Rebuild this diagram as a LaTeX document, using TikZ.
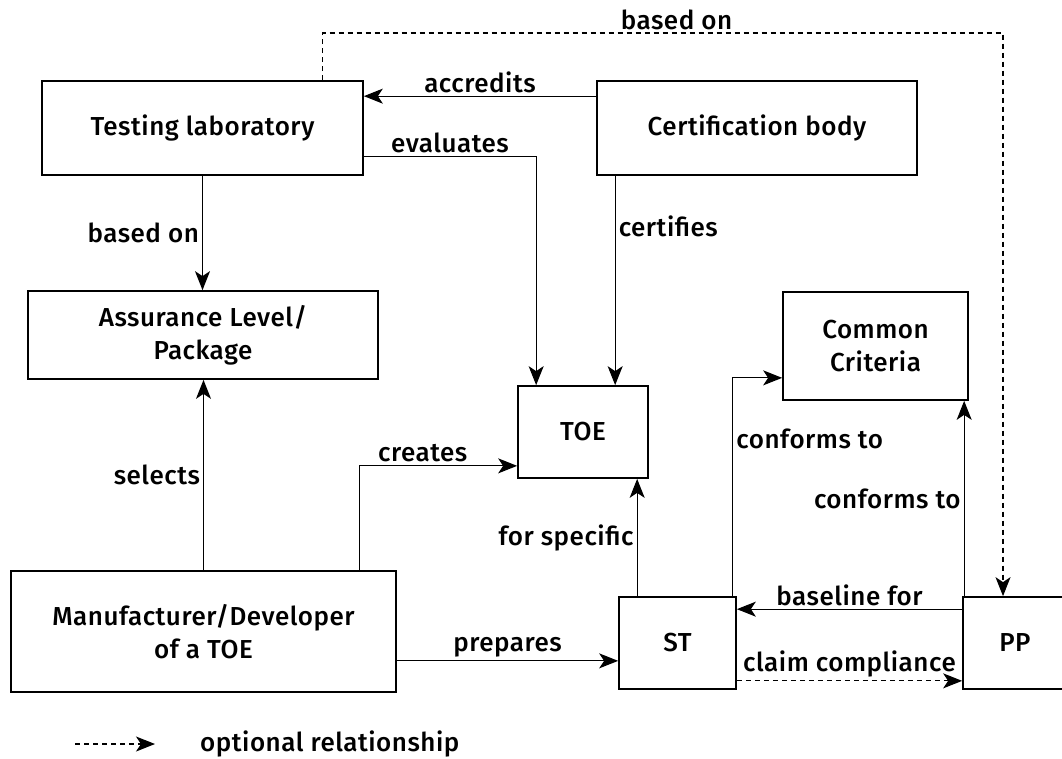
\documentclass[tikz,border=0pt]{standalone}
\usepackage{fontspec}
\setmainfont{Fira Sans}[UprightFont={* Medium},LetterSpace=2]
\usetikzlibrary{arrows.meta,positioning}

\begin{document}
\begin{tikzpicture}[x=1pt,y=-1pt,
                  every node/.style={font=\fontsize{26}{33}\selectfont},
                  box/.style={rectangle,draw,line width=1.7pt,align=center,inner sep=0pt},
                  conn/.style={line width=1.2pt,-{Stealth[length=19pt,width=15pt,inset=5pt]}},
                  opt/.style={conn,dash pattern=on 5pt off 4pt},
                  lbl/.style={inner sep=3pt},
            ]
            \useasboundingbox (0,0) rectangle (1062,758);

            \node[box,minimum width=321pt,minimum height=94pt] (lab) at (202.5,128) {Testing laboratory};
            \node[box,minimum width=320pt,minimum height=94pt] (cert) at (757,128) {Certification body};
            \node[box,minimum width=350pt,minimum height=88pt] (pkg) at (203,335) {Assurance Level/\\Package};
            \node[box,minimum width=130pt,minimum height=92pt] (toe) at (583,432) {TOE};
            \node[box,minimum width=185pt,minimum height=108pt] (cc) at (875.5,346) {Common\\Criteria};
            \node[box,minimum width=385pt,minimum height=121pt] (dev) at (203.5,631.5) {Manufacturer/Developer\\of a TOE};
            \node[box,minimum width=117pt,minimum height=92pt] (st) at (677.5,643) {ST};
            \node[box,minimum width=104pt,minimum height=92pt] (pp) at (1015,643) {PP};

            \draw[conn] ([yshift=-16pt]cert.north west) -- ([yshift=-16pt]lab.north east) node[lbl,midway,above] {accredits};
            \draw[conn] ([yshift=19pt]lab.south east) -| ([xshift=19pt]toe.north west) node[lbl,pos=0.25,above] {evaluates};
            \draw[conn] ([xshift=19pt]cert.south west) -- ([xshift=19pt]cert.south west |- toe.north) node[lbl,pos=0.24,right] {certifies};
            \draw[conn] (lab.south) -- (lab.south |- pkg.north) node[lbl,midway,left] {based on};
            \draw[conn] (dev.north) -- (dev.north |- pkg.south) node[lbl,midway,left] {selects};
            \draw[conn] ([xshift=-37pt]dev.north east) |- ([yshift=13pt]toe.south west) node[lbl,pos=0.7,above] {creates};
            \draw[conn] ([yshift=32pt]dev.south east) -- ([yshift=32pt]dev.south east -| st.west) node[lbl,midway,above] {prepares};
            \draw[conn] ([xshift=19pt]st.north west) -- ([xshift=19pt]st.north west |- toe.south) node[lbl,midway,left] {for specific};
            \draw[conn] ([xshift=-4pt]st.north east) |- ([yshift=23pt]cc.south west) node[lbl,pos=0.36,right] {conforms to};
            \draw[conn] ([xshift=2pt]pp.north west) -- ([xshift=2pt]pp.north west |- cc.south) node[lbl,midway,left] {conforms to};
            \draw[conn] ([yshift=-13pt]pp.north west) -- ([yshift=-13pt]pp.north west -| st.east) node[lbl,midway,above] {baseline for};
            \draw[opt] ([yshift=9pt]st.south east) -- ([yshift=9pt]st.south east -| pp.west) node[lbl,midway,above] {claim compliance};

            \coordinate (bend) at (1003,33);
            \draw[opt] ([xshift=-41pt]lab.north east) |- (bend) node[lbl,pos=0.76,above] {based on} -- (bend |- pp.north);

            \coordinate (legend) at (75,744);
            \node[anchor=west,inner sep=0pt] (optl) at (200,744) {optional relationship};
            \draw[opt] (legend) -- ++(80,0);
      \end{tikzpicture}
\end{document}
